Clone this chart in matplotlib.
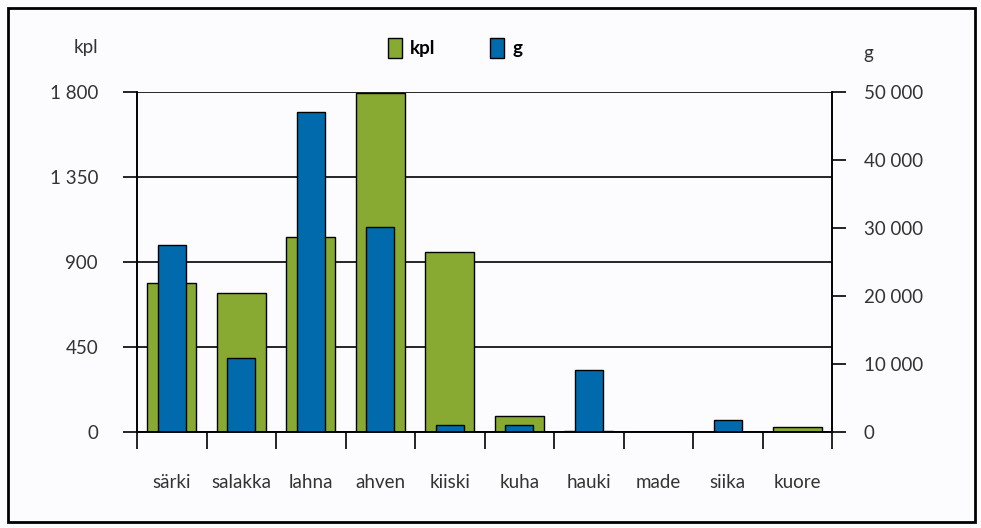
import matplotlib
matplotlib.use("Agg")
import matplotlib.pyplot as plt
from matplotlib.patches import Patch, Rectangle
from matplotlib.ticker import FuncFormatter
import numpy as np

plt.rcParams['font.family'] = ['Lato', 'DejaVu Sans']

# kalalajit ja saaliit
lajit = ["särki", "salakka", "lahna", "ahven", "kiiski", "kuha", "hauki", "made", "siika", "kuore"]
kpl = [790, 737, 1031, 1796, 953, 85, 6, 0, 0, 25]
g = [27500, 10900, 47000, 30100, 1000, 1000, 9100, 0, 1700, 0]

vihrea = "#88aa32"
sininen = "#016aad"
tekstivari = "#333333"

fig = plt.figure(figsize=(9.81, 5.28), dpi=100, facecolor="#fcfcfe")
ax = fig.add_axes([137 / 981, 96 / 528, 695 / 981, 340 / 528])
ax.set_facecolor("#fcfcfe")
ax2 = ax.twinx()

x = np.arange(len(lajit))
ax.bar(x, kpl, width=0.71, color=vihrea, edgecolor="black", linewidth=1.0, zorder=2)
ax2.bar(x, g, width=0.40, color=sininen, edgecolor="black", linewidth=1.0, zorder=2)

ax.set_xlim(-0.5, len(lajit) - 0.5)
ax.set_ylim(0, 1800)
ax2.set_ylim(0, 50000)
ax.set_yticks([0, 450, 900, 1350, 1800])
ax2.set_yticks([0, 10000, 20000, 30000, 40000, 50000])

valilyonti = FuncFormatter(lambda v, p: f"{int(v):,}".replace(",", " "))
ax.yaxis.set_major_formatter(valilyonti)
ax2.yaxis.set_major_formatter(valilyonti)

ax.set_axisbelow(True)
ax.grid(axis="y", color="black", linewidth=1.2)

# x-akselin viivat luokkien rajoilla, nimet keskellä
ax.set_xticks(np.arange(len(lajit) + 1) - 0.5)
ax.set_xticklabels([])
ax.set_xticks(x, minor=True)
ax.set_xticklabels(lajit, minor=True)
ax.tick_params(axis="x", which="major", direction="out", length=12, width=1.2)
ax.tick_params(axis="x", which="minor", length=0, pad=30, labelsize=13.5, labelcolor=tekstivari)
ax.tick_params(axis="y", direction="out", length=10, width=1.2, pad=18, labelsize=13.5, labelcolor=tekstivari)
ax2.tick_params(axis="y", direction="out", length=10, width=1.2, pad=13, labelsize=13.5, labelcolor=tekstivari)

for a in (ax, ax2):
    a.spines["top"].set_visible(False)
    for s in ("left", "right", "bottom"):
        a.spines[s].set_linewidth(1.2)

fig.text(86 / 981, 1 - 47 / 528, "kpl", fontsize=13.5, color=tekstivari, ha="center", va="center")
fig.text(868 / 981, 1 - 53 / 528, "g", fontsize=13.5, color=tekstivari, ha="center", va="center")

kahvat = [Patch(facecolor=vihrea, edgecolor="black", label="kpl"),
          Patch(facecolor=sininen, edgecolor="black", label="g")]
fig.legend(handles=kahvat, loc="center", bbox_to_anchor=(455 / 981, 1 - 48 / 528), ncol=2,
           frameon=False, handlelength=0.75, handleheight=1.2, handletextpad=0.45, columnspacing=2.9,
           prop={"weight": "bold", "size": 13.5})

fig.patches.append(Rectangle((8 / 981, 6 / 528), 967 / 981, 514 / 528, transform=fig.transFigure,
                             fill=False, edgecolor="black", linewidth=2))

fig.savefig("out.png", dpi=100, facecolor=fig.get_facecolor())
